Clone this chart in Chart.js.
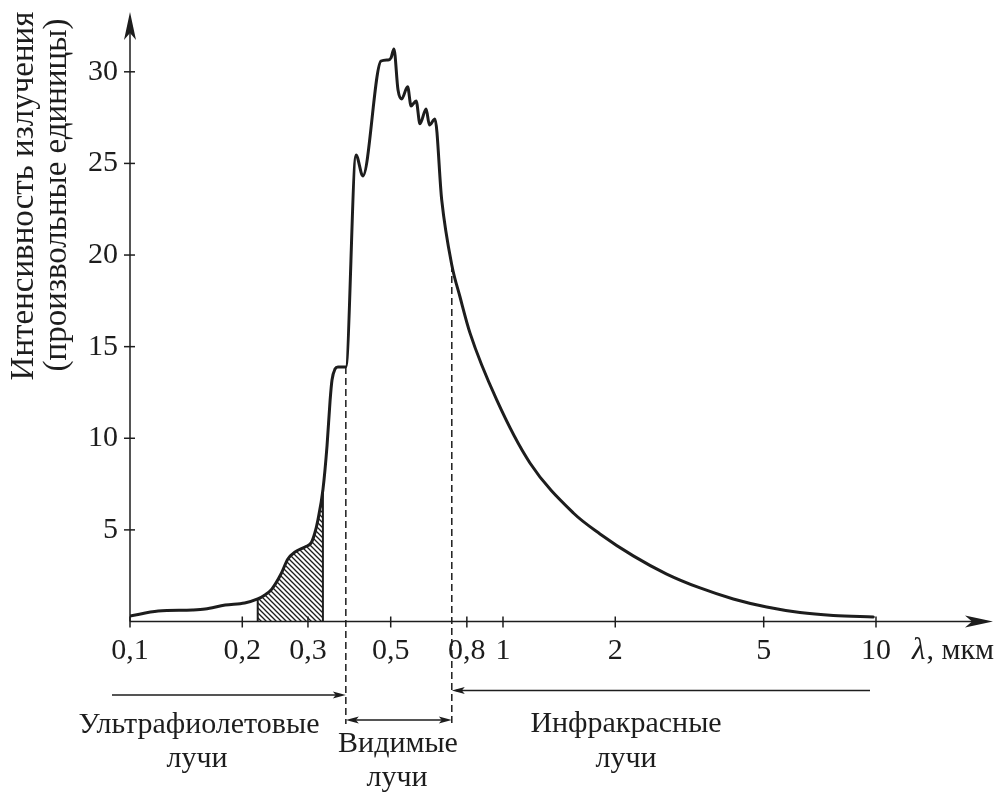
<!DOCTYPE html>
<html><head><meta charset="utf-8">
<script src="https://cdn.jsdelivr.net/npm/chart.js@4/dist/chart.umd.min.js"></script>
<style>html,body{margin:0;padding:0;background:#fff}#wrap{width:1000px;height:794px;position:relative}</style>
</head><body><div id="wrap"><canvas id="c" width="1000" height="794"></canvas></div>
<script>
// ---- data ----
const wavelength = [0.100, 0.119, 0.147, 0.159, 0.180, 0.203, 0.220, 0.230, 0.240, 0.254, 0.265, 0.277, 0.2945, 0.306, 0.313, 0.319, 0.329, 0.3375, 0.344, 0.348, 0.3545, 0.361, 0.379, 0.4036, 0.421, 0.471, 0.492, 0.501, 0.510, 0.523, 0.535, 0.555, 0.567, 0.585, 0.599, 0.622, 0.635, 0.657, 0.685, 0.729, 0.767, 0.8155, 0.962, 1.181, 1.544, 1.820, 2.235, 2.747, 3.375, 4.144, 5.093, 6.256, 7.683, 9.835];
const intensity  = [0.30, 0.57, 0.63, 0.68, 0.90, 1.01, 1.23, 1.45, 1.77, 2.59, 3.41, 3.79, 4.07, 4.29, 4.83, 5.54, 7.18, 9.60, 12.09, 13.18, 13.78, 13.89, 13.89, 25.46, 24.32, 30.59, 30.65, 30.76, 31.25, 29.02, 28.52, 29.18, 28.14, 28.41, 27.16, 27.97, 27.10, 27.43, 23.01, 19.46, 17.71, 15.75, 12.09, 8.65, 5.92, 4.78, 3.58, 2.59, 1.83, 1.23, 0.79, 0.49, 0.33, 0.25];
const xTickValues = [0.1, 0.2, 0.3, 0.5, 0.8, 1, 2, 5, 10];
const yTickValues = [5, 10, 15, 20, 25, 30];
const hatchRange = [0.220, 0.329];
const visibleRange = [0.379, 0.729];
const yAxisTitle = ['Интенсивность излучения', '(произвольные единицы)'];
const xAxisSymbol = 'λ';
const xAxisUnit = ', мкм';
const uvLabel = ['Ультрафиолетовые', 'лучи'];
const visLabel = ['Видимые', 'лучи'];
const irLabel = ['Инфракрасные', 'лучи'];

// ---- styling ----
const INK = '#1d1d1d';
const FONT = "'Liberation Serif', 'Times New Roman', serif";

const curve = wavelength.map((w, i) => ({x: w, y: intensity[i]}));
const hatchPts = curve.filter(p => p.x >= hatchRange[0] - 1e-9 && p.x <= hatchRange[1] + 1e-9);
const valueAt = w => intensity[wavelength.indexOf(w)];

function hatchPattern() {
  const s = 5, c = document.createElement('canvas');
  c.width = c.height = s;
  const g = c.getContext('2d');
  g.strokeStyle = INK; g.lineWidth = 1.3;
  g.beginPath();
  g.moveTo(0, 0); g.lineTo(s, s);
  g.moveTo(-2, s - 2); g.lineTo(2, s + 2);
  g.moveTo(s - 2, -2); g.lineTo(s + 2, 2);
  g.stroke();
  return g.createPattern(c, 'repeat');
}

function head(ctx, tx, ty, dx, dy, L, W, notch) {
  const bx = tx - dx * L, by = ty - dy * L, px = -dy, py = dx;
  ctx.beginPath();
  ctx.moveTo(tx, ty);
  ctx.lineTo(bx + px * W, by + py * W);
  ctx.lineTo(tx - dx * (L - notch), ty - dy * (L - notch));
  ctx.lineTo(bx - px * W, by - py * W);
  ctx.closePath();
  ctx.fill();
}
function seg(ctx, x1, y1, x2, y2) { ctx.beginPath(); ctx.moveTo(x1, y1); ctx.lineTo(x2, y2); ctx.stroke(); }

const overlay = {
  id: 'overlay',
  afterDatasetsDraw(chart) {
    const {ctx, chartArea: a, scales: {x, y}} = chart;
    const y0 = y.getPixelForValue(0);
    ctx.save();
    ctx.strokeStyle = INK; ctx.fillStyle = INK; ctx.lineWidth = 1.5;
    // axes with arrows
    seg(ctx, a.left, y0, 985, y0);
    head(ctx, 993, y0, 1, 0, 28, 6, 7);
    seg(ctx, a.left, y0, a.left, 30);
    head(ctx, a.left, 12, 0, -1, 28, 6, 7);
    // tick marks crossing the axes
    xTickValues.forEach(v => { const px = x.getPixelForValue(v); seg(ctx, px, y0 - 5, px, y0 + 6); });
    yTickValues.forEach(v => { const py = y.getPixelForValue(v); seg(ctx, a.left - 6, py, a.left + 5, py); });
    // dashed boundaries of visible range
    const xv0 = x.getPixelForValue(visibleRange[0]);
    const xv1 = x.getPixelForValue(visibleRange[1]);
    ctx.setLineDash([7, 4]);
    seg(ctx, xv0, y.getPixelForValue(valueAt(visibleRange[0])), xv0, 724);
    seg(ctx, xv1, y.getPixelForValue(valueAt(visibleRange[1])), xv1, 724);
    ctx.setLineDash([]);
    // range arrows
    ctx.lineWidth = 1.3;
    seg(ctx, 112, 695, xv0 - 4, 695); head(ctx, xv0, 695, 1, 0, 13, 3.5, 3);
    seg(ctx, xv0 + 4, 720, xv1 - 4, 720); head(ctx, xv0, 720, -1, 0, 13, 3.5, 3); head(ctx, xv1, 720, 1, 0, 13, 3.5, 3);
    seg(ctx, 870, 690.5, xv1 + 4, 690.5); head(ctx, xv1, 690.5, -1, 0, 13, 3.5, 3);
    // texts
    ctx.fillStyle = INK;
    ctx.font = '30px ' + FONT;
    ctx.textAlign = 'center'; ctx.textBaseline = 'alphabetic';
    ctx.fillText(uvLabel[0], 199, 733); ctx.fillText(uvLabel[1], 197, 767);
    ctx.fillText(visLabel[0], 398, 752); ctx.fillText(visLabel[1], 397, 786);
    ctx.fillText(irLabel[0], 626, 732); ctx.fillText(irLabel[1], 626, 767);
    // x axis label
    ctx.textAlign = 'left';
    ctx.font = 'italic 31px ' + FONT;
    ctx.fillText(xAxisSymbol, 912, 659);
    const wl = ctx.measureText(xAxisSymbol).width;
    ctx.font = '30px ' + FONT;
    ctx.fillText(xAxisUnit, 912 + wl + 1, 659);
    // y axis title
    ctx.font = '33px ' + FONT;
    ctx.textAlign = 'center'; ctx.textBaseline = 'middle';
    [[24, 196], [57, 195]].forEach((p, i) => {
      ctx.save(); ctx.translate(p[0], p[1]); ctx.rotate(-Math.PI / 2);
      ctx.fillText(yAxisTitle[i], 0, 0); ctx.restore();
    });
    ctx.restore();
  }
};

const edge = w => [{x: w, y: 0}, {x: w, y: valueAt(w)}];

new Chart(document.getElementById('c'), {
  type: 'line',
  data: {
    datasets: [
      {data: curve, borderColor: INK, borderWidth: 3, pointRadius: 0, fill: false, cubicInterpolationMode: 'monotone', order: 0, borderCapStyle: 'round', borderJoinStyle: 'round'},
      {data: hatchPts, borderWidth: 0, borderColor: 'rgba(0,0,0,0)', backgroundColor: hatchPattern(), fill: 'origin', pointRadius: 0, cubicInterpolationMode: 'monotone', order: 3},
      {data: edge(hatchRange[0]), borderColor: INK, borderWidth: 2, pointRadius: 0, tension: 0, fill: false, order: 1},
      {data: edge(hatchRange[1]), borderColor: INK, borderWidth: 2, pointRadius: 0, tension: 0, fill: false, order: 1}
    ]
  },
  options: {
    responsive: false, animation: false, events: [],
    layout: {padding: {top: 15, right: 15, left: 0, bottom: 0}},
    plugins: {legend: {display: false}, tooltip: {enabled: false}},
    scales: {
      x: {
        type: 'logarithmic', min: 0.1, max: 19.6, position: 'bottom',
        grid: {display: false, drawTicks: false}, border: {display: false},
        afterBuildTicks: s => { s.ticks = xTickValues.map(v => ({value: v})); },
        afterFit: s => { s.height = 172.5; s.paddingLeft = 0; s.paddingRight = 0; },
        ticks: {autoSkip: false, maxRotation: 0, padding: 12, color: INK, font: {family: FONT, size: 30},
          callback: v => String(v).replace('.', ',')}
      },
      y: {
        type: 'linear', min: 0, max: 33.1,
        grid: {display: false, drawTicks: false}, border: {display: false},
        afterBuildTicks: s => { s.ticks = yTickValues.map(v => ({value: v})); },
        afterFit: s => { s.width = 130; s.paddingTop = 0; s.paddingBottom = 0; },
        ticks: {padding: 12, color: INK, font: {family: FONT, size: 30}}
      }
    }
  },
  plugins: [overlay]
});
</script></body></html>
